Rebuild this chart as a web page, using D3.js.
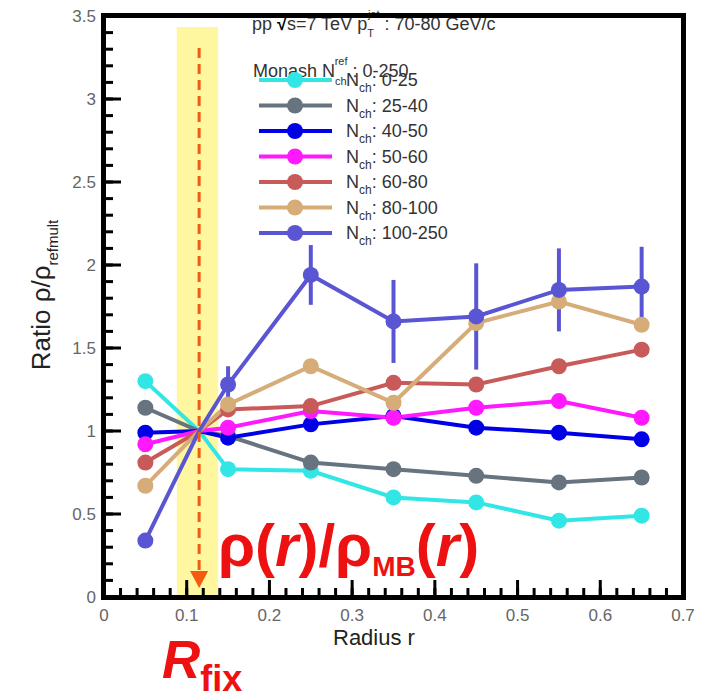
<!DOCTYPE html>
<html>
<head>
<meta charset="utf-8">
<script src="https://cdn.jsdelivr.net/npm/d3@7"></script>
<style>
  body { margin: 0; background: #fff; }
  #wrap { position: relative; width: 704px; height: 698px; overflow: hidden; }
  #wrap svg { position: absolute; left: 0; top: 0; font-family: "Liberation Sans", Arial, sans-serif; }
</style>
</head>
<body>
<div id="wrap">
  <svg id="chart" width="704" height="698"></svg>
  <svg id="frame" width="704" height="698"></svg>
</div>
<script>
// radius bins (bin centres) and the fixed normalisation radius
const radius = [0.05, 0.15, 0.25, 0.35, 0.45, 0.55, 0.65];
const rFix = 0.115;
const rFixBand = [0.088, 0.138];

const labels = ['0-25', '25-40', '40-50', '50-60', '60-80', '80-100', '100-250'];
const colors = ['#33e6e6', '#67737f', '#0000e6', '#ff19ff', '#c85a5a', '#d6ac78', '#5a55d2'];

const nch0_25   = [1.30, 0.77, 0.76, 0.60, 0.57, 0.46, 0.49];
const nch25_40  = [1.14, 0.97, 0.81, 0.77, 0.73, 0.69, 0.72];
const nch40_50  = [0.99, 0.96, 1.04, 1.09, 1.02, 0.99, 0.95];
const nch50_60  = [0.92, 1.02, 1.12, 1.08, 1.14, 1.18, 1.08];
const nch60_80  = [0.81, 1.13, 1.15, 1.29, 1.28, 1.39, 1.49];
const nch80_100 = [0.67, 1.16, 1.39, 1.17, 1.65, 1.78, 1.64];
const nch100_250 = [0.34, 1.28, 1.94, 1.66, 1.69, 1.85, 1.87];
const err100_250 = [0, 0.11, 0.18, 0.25, 0.32, 0.25, 0.24];

const seriesValues = [nch0_25, nch25_40, nch40_50, nch50_60, nch60_80, nch80_100, nch100_250];

const xTicks = [0, 0.1, 0.2, 0.3, 0.4, 0.5, 0.6, 0.7];
const yTicks = [0, 0.5, 1, 1.5, 2, 2.5, 3, 3.5];

const margin = { top: 16, right: 21, bottom: 101, left: 104 };
const svg = d3.select('#chart');
const W = 704 - margin.left - margin.right;
const H = 698 - margin.top - margin.bottom;
const g = svg.append('g').attr('transform', `translate(${margin.left}, ${margin.top})`);

const x = d3.scaleLinear().domain([0, 0.7]).range([0, W]);
const y = d3.scaleLinear().domain([0, 3.5]).range([H, 0]);

// yellow band around R_fix
g.append('rect')
  .attr('x', x(rFixBand[0])).attr('width', x(rFixBand[1]) - x(rFixBand[0]))
  .attr('y', 11).attr('height', H - 11)
  .attr('fill', '#fff7a0');

// lines
const lineGen = d3.line().x(d => x(d[0])).y(d => y(d[1]));
seriesValues.forEach((vals, i) => {
  const pts = radius.map((r, j) => [r, vals[j]]);
  pts.splice(1, 0, [rFix, 1]);
  g.append('path').datum(pts)
    .attr('fill', 'none').attr('stroke', colors[i]).attr('stroke-width', 4)
    .attr('d', lineGen);
});

// error bars of highest multiplicity class
err100_250.forEach((e, j) => {
  if (!e) return;
  g.append('line')
    .attr('x1', x(radius[j])).attr('x2', x(radius[j]))
    .attr('y1', y(nch100_250[j] - e)).attr('y2', y(nch100_250[j] + e))
    .attr('stroke', colors[6]).attr('stroke-width', 4);
});

// markers
seriesValues.forEach((vals, i) => {
  g.selectAll(null).data(vals).join('circle')
    .attr('cx', (d, j) => x(radius[j])).attr('cy', d => y(d))
    .attr('r', 8).attr('fill', colors[i]);
});

// dashed arrow at R_fix
g.append('line')
  .attr('x1', x(rFix)).attr('x2', x(rFix)).attr('y1', 32).attr('y2', H - 24)
  .attr('stroke', '#f25a10').attr('stroke-width', 3).attr('stroke-dasharray', '10,6');
g.append('path')
  .attr('d', `M${x(rFix) - 9},${H - 26} L${x(rFix) + 9},${H - 26} L${x(rFix)},${H - 9} Z`)
  .attr('fill', '#f25a10');

// tick labels
g.selectAll(null).data(yTicks).join('text')
  .attr('x', -8).attr('y', d => y(d) + 6).attr('text-anchor', 'end')
  .attr('font-size', 17).attr('fill', '#666').text(d => d);
g.selectAll(null).data(xTicks).join('text')
  .attr('x', d => x(d)).attr('y', H + 24).attr('text-anchor', 'middle')
  .attr('font-size', 17).attr('fill', '#666').text(d => d);

// axis titles
svg.append('text')
  .attr('x', 333).attr('y', 645)
  .attr('font-size', 22).attr('fill', '#222')
  .text('Radius r');
const yt = svg.append('text')
  .attr('transform', 'translate(50, 295) rotate(-90)')
  .attr('text-anchor', 'middle')
  .attr('font-size', 26).attr('fill', '#222');
yt.append('tspan').text('Ratio ρ/ρ');
yt.append('tspan').attr('font-size', 15).attr('dy', 8).text('refmult');

// header text
const hdr = svg.append('text').attr('x', 252).attr('y', 30)
  .attr('font-size', 18).attr('fill', '#333');
hdr.append('tspan').text('pp ');
hdr.append('tspan').attr('font-weight', 'bold').attr('fill', '#000').text('√');
hdr.append('tspan').text('s=7 TeV p');
hdr.append('tspan').attr('font-size', 11).attr('dy', 7).text('T');
hdr.append('tspan').attr('font-size', 11).attr('dx', -6).attr('dy', -19).text('jet');
hdr.append('tspan').attr('dy', 12).text(' : 70-80 GeV/c');

const mon = svg.append('text').attr('x', 253).attr('y', 77)
  .attr('font-size', 18).attr('fill', '#333');
mon.append('tspan').text('Monash N');
mon.append('tspan').attr('font-size', 11).attr('dy', 8).text('ch');
mon.append('tspan').attr('font-size', 11).attr('dx', -12).attr('dy', -20).text('ref');
mon.append('tspan').attr('dy', 12).text(' : 0-250');

// legend
const legend = svg.append('g');
labels.forEach((lab, i) => {
  const ly = 80 + i * 25.5;
  legend.append('line')
    .attr('x1', 259).attr('x2', 332).attr('y1', ly).attr('y2', ly)
    .attr('stroke', colors[i]).attr('stroke-width', 4);
  legend.append('circle').attr('cx', 295).attr('cy', ly).attr('r', 8).attr('fill', colors[i]);
  const t = legend.append('text').attr('x', 346).attr('y', ly + 6)
    .attr('font-size', 18).attr('fill', '#333');
  t.append('tspan').text('N');
  t.append('tspan').attr('font-size', 12).attr('dy', 6).text('ch');
  t.append('tspan').attr('dy', -6).text(': ' + lab);
});

// red annotations
const big = svg.append('text').attr('x', 218).attr('y', 566)
  .attr('font-size', 60).attr('font-weight', 'bold').attr('fill', '#ee1111');
big.append('tspan').text('ρ(');
big.append('tspan').attr('font-style', 'italic').text('r');
big.append('tspan').text(')/ρ');
big.append('tspan').attr('font-size', 28).attr('dy', 10).text('MB');
big.append('tspan').attr('dy', -10).text('(');
big.append('tspan').attr('font-style', 'italic').text('r');
big.append('tspan').text(')');

const rf = svg.append('text').attr('x', 162).attr('y', 678)
  .attr('font-size', 53).attr('font-weight', 'bold').attr('fill', '#ee1111');
rf.append('tspan').attr('font-style', 'italic').text('R');
rf.append('tspan').attr('font-size', 36).attr('dy', 13).text('fix');

// frame and inside ticks on a separate overlay svg
const fg = d3.select('#frame').append('g')
  .attr('transform', `translate(${margin.left}, ${margin.top})`);
const yMinor = d3.range(0, 35.5, 1).map(v => v / 10);
const xMinor = d3.range(0, 35.5, 1).map(v => v / 50);
const tk = fg.append('g').attr('fill', '#000');
tk.selectAll(null).data(yMinor).join('rect')
  .attr('x', 0).attr('width', 9).attr('y', d => y(d) - 1.5).attr('height', 3);
tk.selectAll(null).data(yTicks).join('rect')
  .attr('x', 0).attr('width', 17).attr('y', d => y(d) - 1.5).attr('height', 3);
tk.selectAll(null).data(xMinor).join('rect')
  .attr('x', d => x(d) - 1.5).attr('width', 3).attr('y', H - 9).attr('height', 9);
tk.selectAll(null).data(xTicks).join('rect')
  .attr('x', d => x(d) - 1.5).attr('width', 3).attr('y', H - 17).attr('height', 17);
tk.append('rect').attr('x', -3).attr('y', -3).attr('width', W + 6).attr('height', 5);
tk.append('rect').attr('x', -3).attr('y', H - 2).attr('width', W + 6).attr('height', 5);
tk.append('rect').attr('x', -3).attr('y', -3).attr('width', 5).attr('height', H + 6);
tk.append('rect').attr('x', W - 2).attr('y', -3).attr('width', 5).attr('height', H + 6);
</script>
</body>
</html>
